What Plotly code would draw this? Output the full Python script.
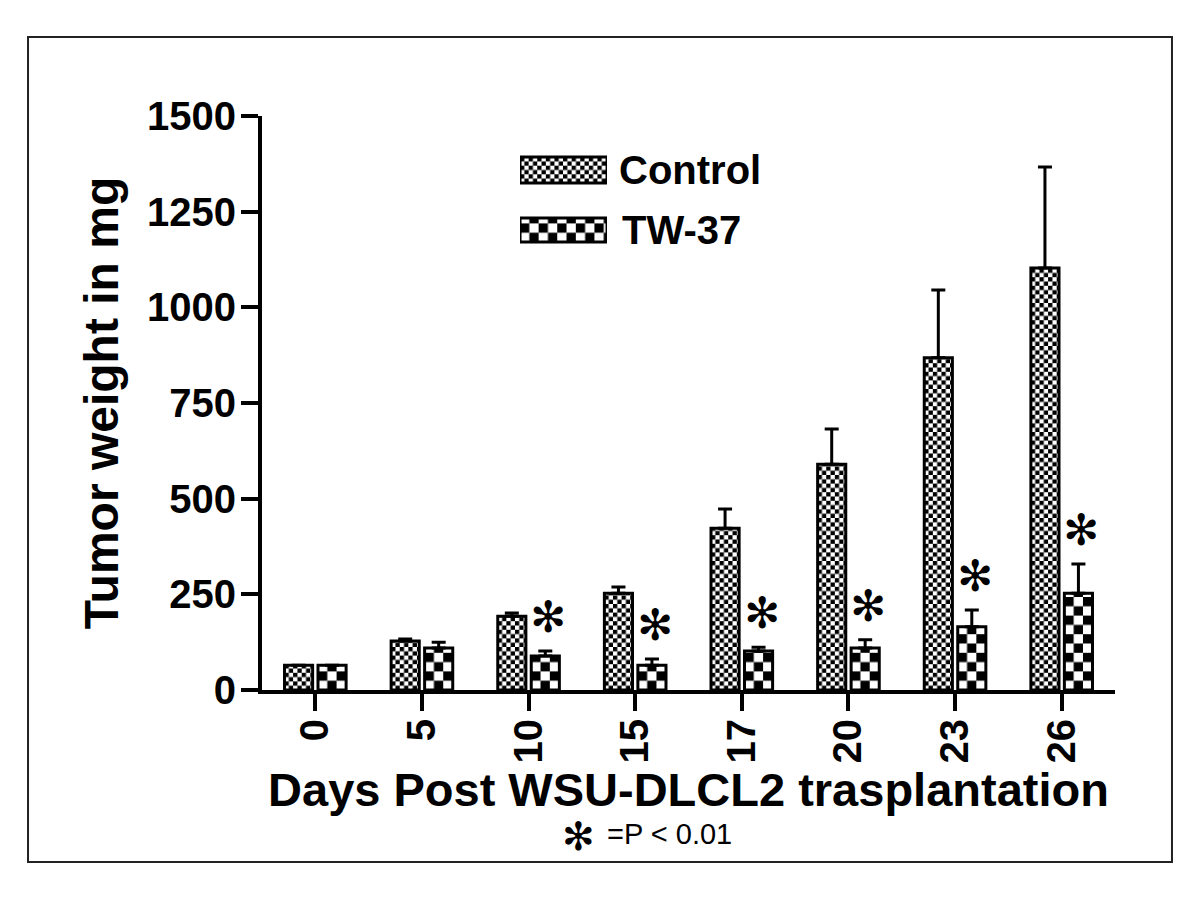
import plotly.graph_objects as go

days = ["0", "5", "10", "15", "17", "20", "23", "26"]
control_mean = [65, 128, 193, 253, 423, 590, 868, 1103]
control_err = [0, 5, 8, 16, 50, 92, 177, 264]
tw37_mean = [65, 110, 89, 65, 102, 110, 165, 253]
tw37_err = [0, 15, 13, 16, 10, 21, 44, 76]
significant = [False, False, True, True, True, True, True, True]
y_ticks = [0, 250, 500, 750, 1000, 1250, 1500]
series_names = ["Control", "TW-37"]

BOLD = dict(family="Arial, 'Liberation Sans', sans-serif", color="black", weight="bold")
REG = dict(family="Arial, 'Liberation Sans', sans-serif", color="black")
STAR_FONT = dict(family="'DejaVu Sans', sans-serif", color="black")

BARGAP = 0.372

fig = go.Figure()

def err(arr):
    return dict(type="data", symmetric=False, array=arr, arrayminus=[0] * len(arr),
                color="black", thickness=3, width=7)

fig.add_trace(go.Bar(
    x=days, y=control_mean, name=series_names[0], meta=4.3,
    marker=dict(color="white", line=dict(color="black", width=3),
                pattern=dict(shape="x", size=6, solidity=0.45, fgcolor="black", bgcolor="white")),
    error_y=err(control_err), showlegend=False))
fig.add_trace(go.Bar(
    x=days, y=tw37_mean, name=series_names[1], meta=9.3,
    marker=dict(color="white", line=dict(color="black", width=3),
                pattern=dict(shape="x", size=13, solidity=0.45, fgcolor="black", bgcolor="white")),
    error_y=err(tw37_err), showlegend=False))

# legend swatches drawn on a small overlay subplot
fig.add_trace(go.Bar(
    x=[1], y=[1], orientation="h", base=0, width=0.43, offset=-0.215, meta=4.3,
    xaxis="x2", yaxis="y2", showlegend=False, hoverinfo="skip",
    marker=dict(color="white", line=dict(color="black", width=3),
                pattern=dict(shape="x", size=6, solidity=0.45, fgcolor="black", bgcolor="white"))))
fig.add_trace(go.Bar(
    x=[1], y=[0], orientation="h", base=0, width=0.40, offset=-0.20, meta=9.3,
    xaxis="x2", yaxis="y2", showlegend=False, hoverinfo="skip",
    marker=dict(color="white", line=dict(color="black", width=3),
                pattern=dict(shape="x", size=13, solidity=0.45, fgcolor="black", bgcolor="white"))))

annotations = []
# significance stars above TW-37 bars (category index + half a bar slot)
tw_offset = (1 - BARGAP) / 4
for i, (m, e, s) in enumerate(zip(tw37_mean, tw37_err, significant)):
    if s:
        annotations.append(dict(x=i + tw_offset, y=m + e, xref="x", yref="y", text="✻",
                                showarrow=False, xshift=3, yshift=34, yanchor="middle",
                                font=dict(size=43, **STAR_FONT)))
# legend labels
annotations.append(dict(x=0.4162, y=0.906, xref="paper", yref="paper", text=series_names[0],
                        showarrow=False, xanchor="left", yanchor="middle", font=dict(size=40, **BOLD)))
annotations.append(dict(x=0.4197, y=0.8014, xref="paper", yref="paper", text=series_names[1],
                        showarrow=False, xanchor="left", yanchor="middle", font=dict(size=40, **BOLD)))
# footnote
annotations.append(dict(x=0.3705, y=-0.2545, xref="paper", yref="paper", text="✻",
                        showarrow=False, xanchor="center", yanchor="middle", font=dict(size=39, **STAR_FONT)))
annotations.append(dict(x=0.4021, y=-0.2515, xref="paper", yref="paper", text="=P &lt; 0.01",
                        showarrow=False, xanchor="left", yanchor="middle", font=dict(size=29, **REG)))

fig.update_layout(
    width=1184, height=884,
    margin=dict(l=254, r=77, t=108, b=202),
    paper_bgcolor="white", plot_bgcolor="rgba(0,0,0,0)",
    barmode="group", bargap=BARGAP, bargroupgap=0.16,
    showlegend=False,
    xaxis=dict(type="category", categoryorder="array", categoryarray=days,
               range=[-0.5, 7.5], showline=True, linewidth=4, linecolor="black",
               ticks="outside", ticklen=17, tickwidth=4, tickcolor="black",
               tickangle=-90, tickfont=dict(size=40, **BOLD), ticklabelstandoff=-8,
               showgrid=False, zeroline=False,
               title=dict(text="Days Post WSU-DLCL2 trasplantation", font=dict(size=47, **BOLD),
                          standoff=0)),
    yaxis=dict(range=[0, 1500], tickvals=y_ticks, showline=True, linewidth=4, linecolor="black",
               ticks="outside", ticklen=17, tickwidth=4, tickcolor="black",
               tickfont=dict(size=40, **BOLD), ticklabelstandoff=-3,
               showgrid=False, zeroline=False,
               title=dict(text="Tumor weight in mg", font=dict(size=48, **BOLD), standoff=14)),
    xaxis2=dict(domain=[0.3025, 0.4045], range=[0, 1], anchor="y2", visible=False, fixedrange=True),
    yaxis2=dict(domain=[0.7491, 0.9582], range=[-0.5, 1.5], anchor="x2", visible=False, fixedrange=True),
    annotations=annotations,
    shapes=[dict(type="rect", xref="paper", yref="paper", x0=-0.2743, x1=1.0668,
                 y0=-0.2997, y1=1.1376, line=dict(color="#222", width=2), fillcolor="rgba(0,0,0,0)")],
)

checker_js = """
var gd = document.getElementById('{plot_id}');
function applyChecks() {
  var svg = gd.querySelector('svg.main-svg');
  if (!svg) return;
  var NS = 'http://www.w3.org/2000/svg';
  var defs = document.getElementById('checkdefs');
  if (!defs) {
    defs = document.createElementNS(NS, 'defs');
    defs.setAttribute('id', 'checkdefs');
    svg.insertBefore(defs, svg.firstChild);
  }
  while (defs.firstChild) defs.removeChild(defs.firstChild);
  var n = 0;
  gd.querySelectorAll('g.trace.bars').forEach(function(tr) {
    var cd = tr.__data__;
    if (!cd || !cd[0] || !cd[0].trace) return;
    var s = cd[0].trace.meta;
    if (!s) return;
    tr.querySelectorAll('g.point path').forEach(function(p) {
      var b = p.getBBox();
      var id = 'chk' + (n++);
      var pat = document.createElementNS(NS, 'pattern');
      pat.setAttribute('id', id);
      pat.setAttribute('patternUnits', 'userSpaceOnUse');
      pat.setAttribute('x', b.x);
      pat.setAttribute('y', b.y + b.height);
      pat.setAttribute('width', 2 * s);
      pat.setAttribute('height', 2 * s);
      [[0, 0, 2 * s, 2 * s, '#ffffff'], [0, 0, s, s, '#000000'], [s, s, s, s, '#000000']].forEach(function(r) {
        var e = document.createElementNS(NS, 'rect');
        e.setAttribute('x', r[0]); e.setAttribute('y', r[1]);
        e.setAttribute('width', r[2]); e.setAttribute('height', r[3]);
        e.setAttribute('fill', r[4]);
        pat.appendChild(e);
      });
      defs.appendChild(pat);
      p.style.fill = 'url(#' + id + ')';
    });
  });
}
applyChecks();
gd.on('plotly_afterplot', applyChecks);
"""

fig.write_html("out.html", post_script=checker_js)
